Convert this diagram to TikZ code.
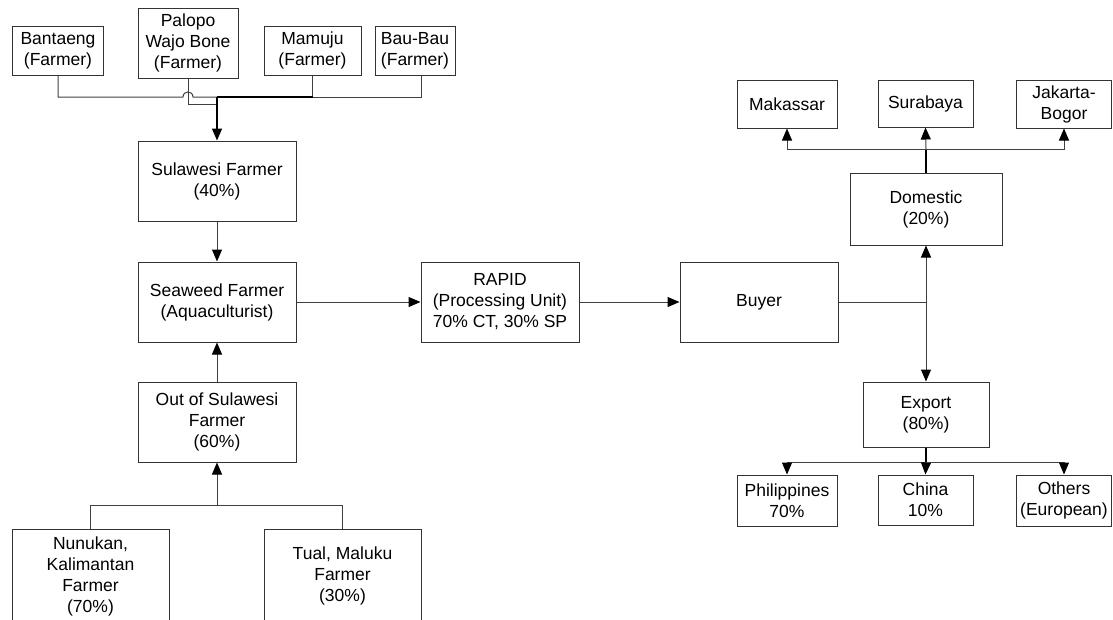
\documentclass[tikz,border=0pt]{standalone}
\usepackage{fontspec}
\setmainfont{Liberation Sans}
\usetikzlibrary{arrows.meta,calc}
\begin{document}
\begin{tikzpicture}[x=1pt,y=-1pt,
  box/.style 2 args={draw=black!80, line width=1pt, align=center, inner sep=0pt,
    font=\fontsize{17.5}{21}\selectfont, minimum width=#1pt, minimum height=#2pt},
  link/.style={draw=black!75, line width=1pt},
  boldlink/.style={draw=black, line width=1.6pt},
  tip/.style={-{Triangle[length=12pt,width=10pt,black]}},
  arr/.style={link, tip},
]
\useasboundingbox (0,0) rectangle (1113,619);
\clip (0,0) rectangle (1113,619);

% sources in Sulawesi
\node[box={91}{49}]  (bant)   at (58,50.5)    {Bantaeng\\(Farmer)};
\node[box={100}{70}] (palopo) at (188,43)     {Palopo\\Wajo Bone\\(Farmer)};
\node[box={97}{49}]  (mam)    at (312.5,50.5) {Mamuju\\(Farmer)};
\node[box={80}{49}]  (bau)    at (415,50.5)   {Bau-Bau\\(Farmer)};

% main chain
\node[box={158}{80}] (sul) at (217,181) {Sulawesi Farmer\\(40\%)};
\node[box={158}{80}] (sea) at (217,302) {Seaweed Farmer\\(Aquaculturist)};
\node[box={158}{80}] (out) at (217,422) {Out of Sulawesi\\Farmer\\(60\%)};
\node[box={158}{80}] (rapid) at (500,302) {RAPID\\(Processing Unit)\\70\% CT, 30\% SP};
\node[box={158}{80}] (buyer) at (759,302) {Buyer};

% sources outside Sulawesi
\node[box={157}{94}] (nun)  at (90.5,576)  {Nunukan,\\Kalimantan\\Farmer\\(70\%)};
\node[box={157}{94}] (tual) at (342.5,576) {Tual, Maluku\\Farmer\\(30\%)};

% domestic market
\node[box={152}{72}] (dom) at (926,209)    {Domestic\\(20\%)};
\node[box={100}{48}] (mak) at (787,104)    {Makassar};
\node[box={95}{47}]  (sur) at (925.5,103.5){Surabaya};
\node[box={95}{48}]  (jak) at (1064,104)   {Jakarta-\\Bogor};

% export market
\node[box={126}{65}] (exp)   at (926,414.5)  {Export\\(80\%)};
\node[box={100}{51}] (phil)  at (787,500.5)  {Philippines\\70\%};
\node[box={95}{50}]  (china) at (925.5,500)  {China\\10\%};
\node[box={95}{51}]  (oth)   at (1064,500.5) {Others\\(European)};

% collecting line of the Sulawesi farmers
\coordinate (j) at (217,97);
\coordinate (hopL) at (183,97);
\coordinate (hopR) at (193,97);
\draw[link] (bant.south) |- (hopL) .. controls (183,90.3) and (193,90.3) .. (hopR) -- (j);
\draw[link] (palopo.south) |- (217,104);
\draw[link] ([xshift=6pt]bau.south) |- (mam.south |- j);
\draw[link] (mam.south) -- (mam.south |- j);
\draw[boldlink] (mam.south |- j) -- (j);
\draw[boldlink, tip] (j) -- (sul.north);

\draw[arr] (sul) -- (sea);
\draw[arr] (out) -- (sea);

% collecting line of the outer farmers
\coordinate (k) at (217,505);
\draw[link] (nun.north) |- (k);
\draw[link] (tual.north) |- (k);
\draw[arr] (k) -- (out.south);

\draw[arr] (sea) -- (rapid);
\draw[arr] (rapid) -- (buyer);

% buyer splits into domestic and export
\coordinate (m) at (dom.south |- buyer.east);
\draw[link] (buyer.east) -- (m);
\draw[arr] (m) -- (dom.south);
\draw[arr] (m) -- (exp.north);

% domestic destinations
\coordinate (d) at (926,149);
\draw[link, draw=black, line width=1.3pt] (dom.north) -- (d);
\draw[arr] (d) -| (mak.south);
\draw[arr] (d) -- (sur.south);
\draw[arr] (d) -| (jak.south);

% export destinations
\coordinate (e) at (926,462);
\draw[link, draw=black, line width=1.3pt] (exp.south) -- (e);
\draw[arr] (e) -| (phil.north);
\draw[arr] (e) -- (china.north);
\draw[arr] (e) -| (oth.north);
\end{tikzpicture}
\end{document}
